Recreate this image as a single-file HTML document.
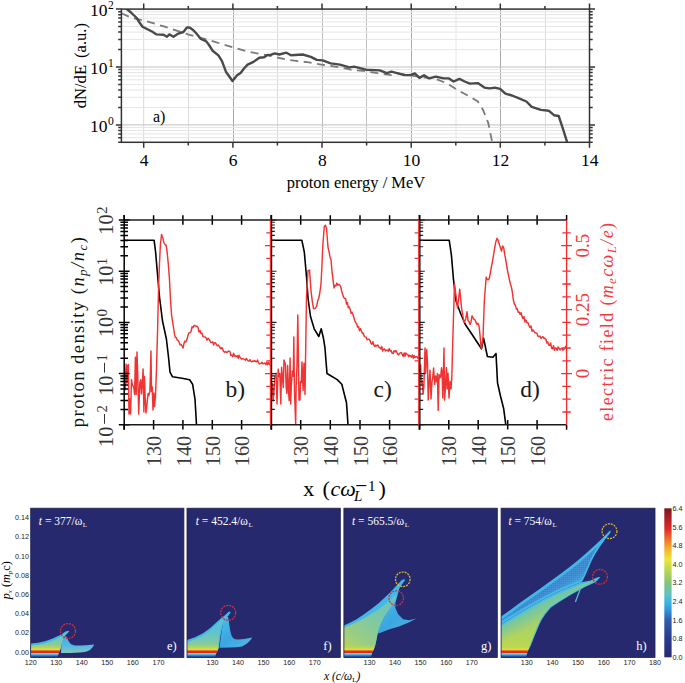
<!DOCTYPE html>
<html><head><meta charset="utf-8"><style>
html,body{margin:0;padding:0;background:#fff;width:685px;height:683px;overflow:hidden}
svg{display:block}
text{font-family:"Liberation Serif",serif}
.s{font-family:"Liberation Sans",sans-serif}
</style></head><body>
<svg width="685" height="683" viewBox="0 0 685 683">
<g id="top">
<line x1="143.7" y1="9.1" x2="143.7" y2="142.3" stroke="#d8d8d8" stroke-width="1"/>
<line x1="188.5" y1="9.1" x2="188.5" y2="142.3" stroke="#dcdcdc" stroke-width="1"/>
<line x1="233.5" y1="9.1" x2="233.5" y2="142.3" stroke="#a9a9a9" stroke-width="1"/>
<line x1="277.5" y1="9.1" x2="277.5" y2="142.3" stroke="#dadada" stroke-width="1"/>
<line x1="322.5" y1="9.1" x2="322.5" y2="142.3" stroke="#bcbcbc" stroke-width="1"/>
<line x1="366.5" y1="9.1" x2="366.5" y2="142.3" stroke="#c2c2c2" stroke-width="1"/>
<line x1="411.5" y1="9.1" x2="411.5" y2="142.3" stroke="#a9a9a9" stroke-width="1"/>
<line x1="456" y1="9.1" x2="456" y2="142.3" stroke="#e6e6e6" stroke-width="1"/>
<line x1="500.5" y1="9.1" x2="500.5" y2="142.3" stroke="#a9a9a9" stroke-width="1"/>
<line x1="545.5" y1="9.1" x2="545.5" y2="142.3" stroke="#dcdcdc" stroke-width="1"/>
<line x1="121.4" y1="142.3" x2="589.5" y2="142.3" stroke="#e6e6e6" stroke-width="1"/>
<line x1="121.4" y1="137.7" x2="589.5" y2="137.7" stroke="#e6e6e6" stroke-width="1"/>
<line x1="121.4" y1="133.9" x2="589.5" y2="133.9" stroke="#e6e6e6" stroke-width="1"/>
<line x1="121.4" y1="130.5" x2="589.5" y2="130.5" stroke="#e6e6e6" stroke-width="1"/>
<line x1="121.4" y1="127.5" x2="589.5" y2="127.5" stroke="#e6e6e6" stroke-width="1"/>
<line x1="121.4" y1="124.9" x2="589.5" y2="124.9" stroke="#c0c0c0" stroke-width="1"/>
<line x1="121.4" y1="107.5" x2="589.5" y2="107.5" stroke="#e6e6e6" stroke-width="1"/>
<line x1="121.4" y1="97.3" x2="589.5" y2="97.3" stroke="#e6e6e6" stroke-width="1"/>
<line x1="121.4" y1="90" x2="589.5" y2="90" stroke="#e6e6e6" stroke-width="1"/>
<line x1="121.4" y1="84.4" x2="589.5" y2="84.4" stroke="#e6e6e6" stroke-width="1"/>
<line x1="121.4" y1="79.8" x2="589.5" y2="79.8" stroke="#e6e6e6" stroke-width="1"/>
<line x1="121.4" y1="76" x2="589.5" y2="76" stroke="#e6e6e6" stroke-width="1"/>
<line x1="121.4" y1="72.6" x2="589.5" y2="72.6" stroke="#e6e6e6" stroke-width="1"/>
<line x1="121.4" y1="69.6" x2="589.5" y2="69.6" stroke="#e6e6e6" stroke-width="1"/>
<line x1="121.4" y1="67" x2="589.5" y2="67" stroke="#c0c0c0" stroke-width="1"/>
<line x1="121.4" y1="49.6" x2="589.5" y2="49.6" stroke="#e6e6e6" stroke-width="1"/>
<line x1="121.4" y1="39.4" x2="589.5" y2="39.4" stroke="#e6e6e6" stroke-width="1"/>
<line x1="121.4" y1="32.1" x2="589.5" y2="32.1" stroke="#e6e6e6" stroke-width="1"/>
<line x1="121.4" y1="26.5" x2="589.5" y2="26.5" stroke="#e6e6e6" stroke-width="1"/>
<line x1="121.4" y1="21.9" x2="589.5" y2="21.9" stroke="#e6e6e6" stroke-width="1"/>
<line x1="121.4" y1="18.1" x2="589.5" y2="18.1" stroke="#e6e6e6" stroke-width="1"/>
<line x1="121.4" y1="14.7" x2="589.5" y2="14.7" stroke="#e6e6e6" stroke-width="1"/>
<line x1="121.4" y1="11.7" x2="589.5" y2="11.7" stroke="#e6e6e6" stroke-width="1"/>
<clipPath id="ctop"><rect x="121.4" y="9.1" width="468.1" height="133.2"/></clipPath>
<g clip-path="url(#ctop)">
<polyline points="121.5,13.3 132,18 143.7,20.4 164.7,26.7 188,34.4 206.8,39.5 232.5,47.2 248.8,51.9 270,55.7 279.3,58 288.7,59.9 307.4,62.2 321.4,64.6 340,67.4 350.6,69.7 363.4,70.9 377.5,73.2 391.5,75.1 397.3,73.2 420,77 435.8,78.9 446.3,83.1 459.4,91 472.5,98.1 477.8,101.5 483.1,109.9 488.3,123.1 491.5,138.8 492.3,142.2" fill="none" stroke="#7a7a7a" stroke-width="1.8" stroke-dasharray="8,5.5"/>
<polyline points="121.4,2 126.2,8.5 131,12.5 136.7,18 139.5,22.5 142.5,26.7 148.4,29.7 152,31.5 156.5,34.4 163.5,34.8 167,36.7 169.4,34.4 173.4,36.7 177.6,33.9 183.4,32 186.9,27.4 190,27.8 192.7,29.7 196,33 200.9,39 206.3,41.4 209,45 212.6,50.7 218.4,55.4 222,61.2 225.9,71.7 232.5,81 237.1,75.2 240.6,72.9 244,68.5 247.6,64.7 253.5,61.9 259.3,57.7 264,57.3 267.5,54.9 270,55.2 274.7,53.4 279.3,54.5 286.4,52.7 291,55.2 302.7,54.5 310.9,56.9 316.7,59.9 322.6,60.4 330.7,63.4 340,64.6 349.4,67.4 354.1,66.7 365.8,69.7 379.8,70.4 386.8,73.2 391.5,71.6 404.3,75.1 410.2,75.1 414.8,73.4 419.5,77.9 424,75.2 429.2,78.4 435.8,76.6 443.6,78.4 448.9,78.4 453.6,81.5 459.4,78.9 464.7,81.5 469.9,83.6 477.8,83.1 484.4,87.6 489.6,88.4 494.9,87.6 500.1,88.9 505.4,93.6 512,95.5 518.5,98.1 526.4,101.5 531.7,106.8 540.9,109.9 548.7,110.7 554,115.2 558.7,116 563.2,129.6 567.1,142.2" fill="none" stroke="#4a4a4a" stroke-width="2.4" stroke-linejoin="round"/>
</g>
<rect x="121.4" y="9.1" width="468.1" height="133.2" fill="none" stroke="#333" stroke-width="1.5"/>
<path d="M143.7 142.3v5.5M143.7 9.1v-5.5M188.3 142.3v3.2M188.3 9.1v-3.2M232.9 142.3v5.5M232.9 9.1v-5.5M277.4 142.3v3.2M277.4 9.1v-3.2M322 142.3v5.5M322 9.1v-5.5M366.6 142.3v3.2M366.6 9.1v-3.2M411.2 142.3v5.5M411.2 9.1v-5.5M455.8 142.3v3.2M455.8 9.1v-3.2M500.3 142.3v5.5M500.3 9.1v-5.5M544.9 142.3v3.2M544.9 9.1v-3.2M589.5 142.3v5.5M589.5 9.1v-5.5M121.4 142.3h-3.2M589.5 142.3h3.2M121.4 137.7h-3.2M589.5 137.7h3.2M121.4 133.9h-3.2M589.5 133.9h3.2M121.4 130.5h-3.2M589.5 130.5h3.2M121.4 127.5h-3.2M589.5 127.5h3.2M121.4 124.9h-5.5M589.5 124.9h5.5M121.4 107.5h-3.2M589.5 107.5h3.2M121.4 97.3h-3.2M589.5 97.3h3.2M121.4 90h-3.2M589.5 90h3.2M121.4 84.4h-3.2M589.5 84.4h3.2M121.4 79.8h-3.2M589.5 79.8h3.2M121.4 76h-3.2M589.5 76h3.2M121.4 72.6h-3.2M589.5 72.6h3.2M121.4 69.6h-3.2M589.5 69.6h3.2M121.4 67h-5.5M589.5 67h5.5M121.4 49.6h-3.2M589.5 49.6h3.2M121.4 39.4h-3.2M589.5 39.4h3.2M121.4 32.1h-3.2M589.5 32.1h3.2M121.4 26.5h-3.2M589.5 26.5h3.2M121.4 21.9h-3.2M589.5 21.9h3.2M121.4 18.1h-3.2M589.5 18.1h3.2M121.4 14.7h-3.2M589.5 14.7h3.2M121.4 11.7h-3.2M589.5 11.7h3.2M121.4 9.1h-5.5M589.5 9.1h5.5" stroke="#333" stroke-width="1.5" fill="none"/>
<text x="144" y="166" font-size="17.5" text-anchor="middle">4</text>
<text x="233.2" y="166" font-size="17.5" text-anchor="middle">6</text>
<text x="322.3" y="166" font-size="17.5" text-anchor="middle">8</text>
<text x="411.5" y="166" font-size="17.5" text-anchor="middle">10</text>
<text x="500.6" y="166" font-size="17.5" text-anchor="middle">12</text>
<text x="589.8" y="166" font-size="17.5" text-anchor="middle">14</text>
<text x="107.6" y="15.8" font-size="17.5" text-anchor="end">10</text>
<text x="107.9" y="8.8" font-size="11.5">2</text>
<text x="107.6" y="73.7" font-size="17.5" text-anchor="end">10</text>
<text x="107.9" y="66.7" font-size="11.5">1</text>
<text x="107.6" y="131.6" font-size="17.5" text-anchor="end">10</text>
<text x="107.9" y="124.6" font-size="11.5">0</text>
<text x="356" y="187.5" font-size="16.5" text-anchor="middle">proton energy / MeV</text>
<text transform="translate(86.2,108.3) rotate(-90)" font-size="16.6"><tspan x="0">dN/dE</tspan><tspan x="50.3">(a.u.)</tspan></text>
<text x="153" y="122" font-size="16">a)</text>
</g>
<g id="mid">
<clipPath id="cmid"><rect x="124.2" y="220.0" width="442.4" height="204.8"/></clipPath>
<g clip-path="url(#cmid)">
<polyline points="124.2,240.2 154.1,240.2 155.6,252 157.4,273 159.5,297 162.5,321 166.4,339 168.5,357 170,372.2 172.4,376.7 182,378.2 189.6,379.7 192.6,384.2 195,399.2 196.5,424.8" fill="none" stroke="#000" stroke-width="1.6" stroke-linejoin="round"/>
<polyline points="271.5,240.2 301.8,240.2 304.3,252 306.5,276.5 308,298 310.5,316.5 314.2,328.8 318.8,336.5 321.2,328.8 323.4,338 324.9,347.3 327,373.5 329.5,375 337.2,379.6 341.8,384.2 346.5,402.7 348,424.8" fill="none" stroke="#000" stroke-width="1.6" stroke-linejoin="round"/>
<polyline points="419.8,240.2 449.2,240.2 451.4,255 453.5,279.6 456,301 460.6,313.5 465.2,324.2 471.4,333.5 477.5,342.7 481.5,348.8 483.5,338 485,345 487.4,356.5 492.9,357.2 496,353.5 497.5,382.7 500.6,396.5 503.7,408.8 505.8,424.8" fill="none" stroke="#000" stroke-width="1.6" stroke-linejoin="round"/>
<polyline points="124.2,365.6 125.3,389.7 126.1,364.1 126.8,383 127.6,365.8 128.3,364.6 129,414 130,398.7 130.6,414 131.5,379.7 132.4,385.4 133.3,386.2 133.9,388.1 134.6,394.4 135.4,357.2 136.2,394.5 137,352 138,384 138.7,414 139.8,383.3 140.7,379.7 141.5,393.9 142.1,385.5 143.1,368.9 143.9,412.1 144.5,376.4 145.2,398.3 146,413 147.1,402.9 148.1,393.4 148.8,395.5 149.9,391 151,351 151.5,391.6 152.2,386.7 153,410 153.9,392.9 154.5,406.7 155.5,395.7 156.5,369.1 157.6,329.3 158.6,286.2 159.5,263.3 160.4,244.5 161.6,234.4 162.8,238.1 164,242.8 165,244.5 166,245 167,250.9 168.2,262.9 169.4,278.1 170.4,298 171.5,314.4 172.5,321.2 173.5,327.4 174.5,334.4 175.4,337.5 176.3,337.4 177.2,340 178.1,340.3 179,341.8 180,344.9 181,344.3 182,345.8 183,348.1 184,343.4 185,341.1 186,341.8 187,339.3 188,335 189,332.8 190,332.9 191,331.7 192,326.8 193,327.7 194,325.5 195,325.7 196,326.2 197,326.3 198,327.3 199,332.1 200,330.6 201,333.6 202,333.1 203,336.5 204,336.9 205,337 206,337.8 207,340.2 208,338.2 209,339.2 210,340.8 210.9,342.6 211.8,342.4 212.7,341.8 213.6,344.9 214.5,342.8 215.5,342.8 216.4,344.4 217.3,345.8 218.2,345 219.1,346.1 220,347.5 220.9,348.8 221.8,347.6 222.7,349 223.6,351.5 224.5,352.3 225.4,351.6 226.3,352.2 227.3,352.3 228.2,351.1 229.1,351.2 230,351.6 230.9,355.5 231.8,355.2 232.7,356.7 233.6,353.3 234.5,356 235.4,355.6 236.3,356.8 237.3,355.6 238.2,358.4 239.1,355.2 240,357.2 240.9,358.2 241.8,359.1 242.7,358.8 243.6,358.9 244.5,359.5 245.4,360.2 246.4,358.4 247.3,359.9 248.2,361 249.1,361.1 250,359.7 250.9,361.3 251.9,361.8 252.8,360.9 253.7,361.3 254.7,360.6 255.6,361.5 256.5,361.8 257.5,360 258.4,362.4 259.3,363.9 260.2,363.7 261.2,363.3 262.1,362.2 263,363.8 264,363.4 264.9,363 265.8,364.8 266.8,362.1 267.7,364.8 268.6,362.3 269.6,364.7 270.5,364.5" fill="none" stroke="#f03434" stroke-width="1.45" stroke-linejoin="round"/>
<polyline points="271.5,390.1 272.3,383.5 273.2,401 274.1,389.8 274.7,376.2 275.5,377.2 276.1,373.1 277,404 278.2,369.1 279,376.6 279.8,373.5 280.8,404 281.6,367.3 282.5,378.1 283.3,387.4 284,360 285.4,364.3 286.2,387.9 286.9,393.4 287.6,365.4 288.5,390.4 289.2,400.6 290.1,358 290.7,404 291.3,386.2 292.3,370.9 293.3,376.2 293.8,337 294.5,391.8 295.7,424 296.1,388.1 297,363.7 297.8,315 299,400.1 300,400 300.5,381.8 301.3,382.7 302,362 303.1,390.4 304,363.2 305,394.5 306.5,296.3 308,270.7 309.5,270.1 311,290.8 312.2,300.6 313.5,308.7 314.6,308.6 315.7,307.9 316.7,306.1 317.8,300.5 318.8,298.3 319.9,292.1 321,284.1 321.9,266.3 322.8,245.6 324.3,226.5 325.4,225.2 326.5,228.3 328,247.3 329,251.5 330,256.9 331,259.7 332,271.1 333,279.7 334,288 335,285.4 335.9,285.9 336.9,283.1 337.8,285.2 338.8,284.3 339.8,285.1 340.8,287 341.8,291.7 342.7,294.4 343.7,297.5 344.6,298.4 345.6,298.4 346.5,304.1 347.4,302.6 348.3,307.8 349.2,306.8 350.2,309.5 351.1,313.4 352,312.3 352.9,314.2 353.9,317.7 354.8,320.5 355.8,322.9 356.7,324 357.6,327 358.6,326.8 359.5,330.7 360.5,328.6 361.4,331 362.4,333.4 363.3,333.3 364.3,336.3 365.2,336.8 366.2,337.2 367.1,339.7 368.1,339.3 369,339.2 370,340.5 371,343.3 371.9,344.2 372.9,341.7 373.9,345.3 374.9,346.5 375.8,345.1 376.8,346 377.8,345 378.8,347.2 379.7,347.7 380.7,348.9 381.7,346.5 382.6,351 383.6,349.2 384.5,348.9 385.5,351 386.4,350.1 387.4,350 388.3,351.2 389.3,348.6 390.2,351 391.2,350.6 392.1,353.4 393.1,353.5 394,350.7 395,351.9 395.9,350.6 396.8,352.2 397.7,354.3 398.6,354.9 399.5,353.3 400.5,352.8 401.4,352.5 402.3,354.7 403.2,356.4 404.1,353 405,356.3 405.9,353 406.8,354.1 407.8,354.4 408.7,356.8 409.6,355.3 410.5,355.7 411.4,357.2 412.4,355 413.3,358.2 414.2,355.6 415.1,357.6 416,356.7 417,356.6 417.9,358.4 418.8,358.5" fill="none" stroke="#f03434" stroke-width="1.45" stroke-linejoin="round"/>
<polyline points="419.8,372.5 420.6,364.7 421.5,385.2 422.2,380.6 423.1,394 423.9,386.4 425,348 425.7,373.5 426.7,349.5 427.5,362.4 428.2,400 429.3,380.7 430,370.1 431,399 432,381.3 432.8,376.8 433.6,368 434.6,384.3 435.5,376 436.6,381.8 437.4,373.6 438.2,410.4 439.1,374.6 439.7,378 440.6,377.4 441.5,367.8 442.1,371.7 442.8,397.9 444,348 444.6,400 445.4,388.1 446.4,367.7 447.2,388.9 448,373.2 449,398 450,381.4 451,389 451.8,377.8 452.9,336.5 454.5,283.9 456,295.9 457.5,307.9 458.6,299.1 459.7,289.2 460.6,297.8 461.5,307.6 462.6,314.2 463.7,321 464.5,322.3 465.8,318.7 467,311.8 468,320.4 469,321.5 470,324.5 471,322.2 472,315.8 473,317.6 474,319.4 475,319.8 476,322.4 477,324.4 478,323.2 479,326 479.5,329.8 481.2,348.4 482.1,343.5 483,337.9 484.3,301.7 485.2,289.6 486.2,277.1 487.2,279.3 488.3,279.8 489.3,278.5 490.4,272.6 491.4,266.6 492.4,261.9 493.5,255.3 494.5,249 495.8,241.9 497,238.3 498,240 499,243.6 500.2,247 501.5,251 502.6,245.9 503.7,247.8 504.8,255.2 505.8,259.9 507.1,268.3 508.3,274.4 509.3,279.2 510.4,284.1 511.4,287 512.4,292.7 513.5,300.8 514.5,304.2 515.4,305.5 516.4,309.1 517.3,308.8 518.2,312.3 519.2,312.1 520.1,314.4 521.1,312.6 522,316.4 523,318.6 524,316.7 525,322.1 526,319.9 527,322.7 528,322.7 529,325.6 530,327.5 531,326 532,331.2 533,329.9 534,331.4 535,332.8 536,332.8 537,333.5 538,336.3 539,336.6 540,336 541,338.6 542,337.4 543,336.7 544,338.5 545,338.2 546,339.4 546.9,343 547.9,342.1 548.8,345.3 549.7,345.4 550.7,343 551.6,348.2 552.5,348.8 553.5,345.6 554.4,350.3 555.3,348 556.3,348.2 557.2,350.4 558.1,347 559.1,348.2 560,350 560.9,349 561.9,347.9 562.8,350.2 563.8,349.5 564.7,348.5 565.7,346.2 566.6,348" fill="none" stroke="#f03434" stroke-width="1.45" stroke-linejoin="round"/>
</g>
<path d="M153.6 215.2v9.6M153.6 420v9.6M182.9 215.2v9.6M182.9 420v9.6M212.3 215.2v9.6M212.3 420v9.6M241.6 215.2v9.6M241.6 420v9.6M118.8 424.8h10.8M120.4 409.4h7.6M120.4 400.4h7.6M120.4 394h7.6M120.4 389h7.6M120.4 385h7.6M120.4 381.5h7.6M120.4 378.6h7.6M120.4 375.9h7.6M118.8 373.6h10.8M120.4 358.2h7.6M120.4 349.2h7.6M120.4 342.8h7.6M120.4 337.8h7.6M120.4 333.8h7.6M120.4 330.3h7.6M120.4 327.4h7.6M120.4 324.7h7.6M118.8 322.4h10.8M120.4 307h7.6M120.4 298h7.6M120.4 291.6h7.6M120.4 286.6h7.6M120.4 282.6h7.6M120.4 279.1h7.6M120.4 276.2h7.6M120.4 273.5h7.6M118.8 271.2h10.8M120.4 255.8h7.6M120.4 246.8h7.6M120.4 240.4h7.6M120.4 235.4h7.6M120.4 231.4h7.6M120.4 227.9h7.6M120.4 225h7.6M120.4 222.3h7.6M118.8 220h10.8M300.7 215.2v9.6M300.7 420v9.6M330.3 215.2v9.6M330.3 420v9.6M360 215.2v9.6M360 420v9.6M389.6 215.2v9.6M389.6 420v9.6M448.8 215.2v9.6M448.8 420v9.6M478.2 215.2v9.6M478.2 420v9.6M507.7 215.2v9.6M507.7 420v9.6M537.1 215.2v9.6M537.1 420v9.6M124.2 215v5M124.2 424.8v5M271 215v5M271 424.8v5M419.3 215v5M419.3 424.8v5M566.6 215v5M566.6 424.8v5" stroke="#000" stroke-width="1.5" fill="none"/>
<path d="M270.5 412h-4.2M270.5 399.2h-4.2M270.5 386.4h-4.2M270.5 373.6h-5.4M270.5 360.8h-4.2M270.5 348h-4.2M270.5 335.2h-4.2M270.5 322.4h-4.2M270.5 309.6h-5.4M270.5 296.8h-4.2M270.5 284h-4.2M270.5 271.2h-4.2M270.5 258.4h-4.2M270.5 245.6h-5.4M270.5 232.8h-4.2M418.8 412h-4.2M418.8 399.2h-4.2M418.8 386.4h-4.2M418.8 373.6h-5.4M418.8 360.8h-4.2M418.8 348h-4.2M418.8 335.2h-4.2M418.8 322.4h-4.2M418.8 309.6h-5.4M418.8 296.8h-4.2M418.8 284h-4.2M418.8 271.2h-4.2M418.8 258.4h-4.2M418.8 245.6h-5.4M418.8 232.8h-4.2M562.4 412h8.4M562.4 399.2h8.4M562.4 386.4h8.4M561.2 373.6h10.8M562.4 360.8h8.4M562.4 348h8.4M562.4 335.2h8.4M562.4 322.4h8.4M561.2 309.6h10.8M562.4 296.8h8.4M562.4 284h8.4M562.4 271.2h8.4M562.4 258.4h8.4M561.2 245.6h10.8M562.4 232.8h8.4" stroke="#f03030" stroke-width="1.3" fill="none"/>
<path d="M271.5 424.8h5M271.5 409.4h3.4M271.5 400.4h3.4M271.5 394h3.4M271.5 389h3.4M271.5 385h3.4M271.5 381.5h3.4M271.5 378.6h3.4M271.5 375.9h3.4M271.5 373.6h5M271.5 358.2h3.4M271.5 349.2h3.4M271.5 342.8h3.4M271.5 337.8h3.4M271.5 333.8h3.4M271.5 330.3h3.4M271.5 327.4h3.4M271.5 324.7h3.4M271.5 322.4h5M271.5 307h3.4M271.5 298h3.4M271.5 291.6h3.4M271.5 286.6h3.4M271.5 282.6h3.4M271.5 279.1h3.4M271.5 276.2h3.4M271.5 273.5h3.4M271.5 271.2h5M271.5 255.8h3.4M271.5 246.8h3.4M271.5 240.4h3.4M271.5 235.4h3.4M271.5 231.4h3.4M271.5 227.9h3.4M271.5 225h3.4M271.5 222.3h3.4M271.5 220h5M419.8 424.8h5M419.8 409.4h3.4M419.8 400.4h3.4M419.8 394h3.4M419.8 389h3.4M419.8 385h3.4M419.8 381.5h3.4M419.8 378.6h3.4M419.8 375.9h3.4M419.8 373.6h5M419.8 358.2h3.4M419.8 349.2h3.4M419.8 342.8h3.4M419.8 337.8h3.4M419.8 333.8h3.4M419.8 330.3h3.4M419.8 327.4h3.4M419.8 324.7h3.4M419.8 322.4h5M419.8 307h3.4M419.8 298h3.4M419.8 291.6h3.4M419.8 286.6h3.4M419.8 282.6h3.4M419.8 279.1h3.4M419.8 276.2h3.4M419.8 273.5h3.4M419.8 271.2h5M419.8 255.8h3.4M419.8 246.8h3.4M419.8 240.4h3.4M419.8 235.4h3.4M419.8 231.4h3.4M419.8 227.9h3.4M419.8 225h3.4M419.8 222.3h3.4M419.8 220h5" stroke="#222" stroke-width="1.1" fill="none"/>
<line x1="123.7" y1="220.0" x2="566.6" y2="220.0" stroke="#1e1e1e" stroke-width="1.4"/>
<line x1="123.7" y1="424.8" x2="566.6" y2="424.8" stroke="#1a1a1a" stroke-width="1.4"/>
<line x1="124.2" y1="215.0" x2="124.2" y2="429.8" stroke="#000" stroke-width="1.5"/>
<line x1="270.4" y1="220.0" x2="270.4" y2="424.8" stroke="#f03030" stroke-width="1.2"/>
<line x1="271.6" y1="215.0" x2="271.6" y2="429.8" stroke="#000" stroke-width="1.2"/>
<line x1="418.7" y1="220.0" x2="418.7" y2="424.8" stroke="#f03030" stroke-width="1.2"/>
<line x1="419.90000000000003" y1="215.0" x2="419.90000000000003" y2="429.8" stroke="#000" stroke-width="1.2"/>
<line x1="566.6" y1="220.0" x2="566.6" y2="424.8" stroke="#f03030" stroke-width="1.4"/>
<g transform="translate(113.1,220) rotate(-90)" fill="#333"><text x="5.6" font-size="20.3" text-anchor="end">10</text><text x="5.9" y="-6.6" font-size="15">2</text></g>
<g transform="translate(113.1,271.2) rotate(-90)" fill="#333"><text x="5.6" font-size="20.3" text-anchor="end">10</text><text x="5.9" y="-6.6" font-size="15">1</text></g>
<g transform="translate(113.1,322.4) rotate(-90)" fill="#333"><text x="5.6" font-size="20.3" text-anchor="end">10</text><text x="5.9" y="-6.6" font-size="15">0</text></g>
<g transform="translate(113.1,373.6) rotate(-90)" fill="#333"><text x="-1.9" font-size="20.3" text-anchor="end">10</text><path d="M1 -8.6h9.8" stroke="#333" stroke-width="1"/><text x="12.2" y="-6.6" font-size="14.5">1</text></g>
<g transform="translate(113.1,424.8) rotate(-90)" fill="#333"><text x="-1.9" font-size="20.3" text-anchor="end">10</text><path d="M1 -8.6h9.8" stroke="#333" stroke-width="1"/><text x="12.2" y="-6.6" font-size="14.5">2</text></g>
<text transform="translate(161.2,451) rotate(-90)" font-size="20.3" text-anchor="middle" fill="#3a3a3a" >130</text>
<text transform="translate(190.5,451) rotate(-90)" font-size="20.3" text-anchor="middle" fill="#3a3a3a" >140</text>
<text transform="translate(219.9,451) rotate(-90)" font-size="20.3" text-anchor="middle" fill="#3a3a3a" >150</text>
<text transform="translate(249.2,451) rotate(-90)" font-size="20.3" text-anchor="middle" fill="#3a3a3a" >160</text>
<text transform="translate(308.3,451) rotate(-90)" font-size="20.3" text-anchor="middle" fill="#3a3a3a" >130</text>
<text transform="translate(337.9,451) rotate(-90)" font-size="20.3" text-anchor="middle" fill="#3a3a3a" >140</text>
<text transform="translate(367.6,451) rotate(-90)" font-size="20.3" text-anchor="middle" fill="#3a3a3a" >150</text>
<text transform="translate(397.2,451) rotate(-90)" font-size="20.3" text-anchor="middle" fill="#3a3a3a" >160</text>
<text transform="translate(456.4,451) rotate(-90)" font-size="20.3" text-anchor="middle" fill="#3a3a3a" >130</text>
<text transform="translate(485.8,451) rotate(-90)" font-size="20.3" text-anchor="middle" fill="#3a3a3a" >140</text>
<text transform="translate(515.3,451) rotate(-90)" font-size="20.3" text-anchor="middle" fill="#3a3a3a" >150</text>
<text transform="translate(544.7,451) rotate(-90)" font-size="20.3" text-anchor="middle" fill="#3a3a3a" >160</text>
<text transform="translate(589.1,245.6) rotate(-90)" font-size="19" text-anchor="middle" fill="#f03c3c" >0.5</text>
<text transform="translate(589.1,309.6) rotate(-90)" font-size="19" text-anchor="middle" fill="#f03c3c" >0.25</text>
<text transform="translate(589.1,373.6) rotate(-90)" font-size="19" text-anchor="middle" fill="#f03c3c" >0</text>
<text transform="translate(83.8,332.2) rotate(-90)" font-size="18.5" text-anchor="middle" fill="#111" textLength="190">proton density (<tspan font-style="italic">n<tspan font-size="13" dy="3.5">p</tspan><tspan dy="-3.5">/n</tspan><tspan font-size="13" dy="3.5">c</tspan></tspan><tspan dy="-3.5">)</tspan></text>
<text transform="translate(612.5,322) rotate(-90)" font-size="18" text-anchor="middle" fill="#f03c3c" textLength="198">electric field (<tspan font-style="italic">m<tspan font-size="13" dy="3.5">e</tspan><tspan dy="-3.5">cω</tspan><tspan font-size="13" dy="3.5">L</tspan><tspan dy="-3.5">/e</tspan></tspan>)</text>
<text x="225.6" y="396.9" font-size="23.5" fill="#1a1a1a">b)</text>
<text x="373.6" y="396.9" font-size="23.5" fill="#1a1a1a">c)</text>
<text x="520.3" y="396.9" font-size="23.5" fill="#1a1a1a">d)</text>
<text x="303.2" y="495.5" font-size="22">x</text>
<text x="322.5" y="495.5" font-size="22">(</text>
<text x="330.5" y="495.5" font-size="22" font-style="italic">cω</text>
<text x="354" y="501.4" font-size="15" font-style="italic">L</text>
<path d="M356.3 485.6h10" stroke="#000" stroke-width="1.1"/>
<text x="368" y="491" font-size="15">1</text>
<text x="378.5" y="495.5" font-size="22">)</text>
</g>
<g id="bot">
<defs>
<linearGradient id="cbar" x1="0" y1="1" x2="0" y2="0">
<stop offset="0" stop-color="#262a6e"/>
<stop offset="0.125" stop-color="#2a3a8e"/>
<stop offset="0.25" stop-color="#305cae"/>
<stop offset="0.31" stop-color="#3090d8"/>
<stop offset="0.36" stop-color="#38b4e6"/>
<stop offset="0.42" stop-color="#5cc2c4"/>
<stop offset="0.5" stop-color="#84c478"/>
<stop offset="0.6" stop-color="#c6da48"/>
<stop offset="0.66" stop-color="#eee63a"/>
<stop offset="0.73" stop-color="#f4b02c"/>
<stop offset="0.8" stop-color="#ec6a2c"/>
<stop offset="0.86" stop-color="#e02a2a"/>
<stop offset="0.93" stop-color="#b01e26"/>
<stop offset="1" stop-color="#76181c"/>
</linearGradient>
<linearGradient id="band" gradientUnits="userSpaceOnUse" x1="0" y1="644" x2="0" y2="657.5">
<stop offset="0" stop-color="#b0d460" stop-opacity="0"/>
<stop offset="0.259" stop-color="#c0d850" stop-opacity="0.7"/>
<stop offset="0.39" stop-color="#e6e236"/>
<stop offset="0.46" stop-color="#f0a82c"/>
<stop offset="0.515" stop-color="#e2301f"/>
<stop offset="0.652" stop-color="#e0281e"/>
<stop offset="0.689" stop-color="#e8b034"/>
<stop offset="0.726" stop-color="#98d078"/>
<stop offset="0.778" stop-color="#48bce4"/>
<stop offset="0.83" stop-color="#3a94da"/>
<stop offset="0.9" stop-color="#2e54aa"/>
<stop offset="1" stop-color="#28307a"/>
</linearGradient>
<linearGradient id="fan" x1="0" y1="0" x2="1" y2="1">
<stop offset="0" stop-color="#4cbfe8"/>
<stop offset="0.5" stop-color="#3aa6e2"/>
<stop offset="1" stop-color="#58b8e2"/>
</linearGradient>
<linearGradient id="fanE" x1="0" y1="0" x2="0" y2="1">
<stop offset="0" stop-color="#3cb0e6"/>
<stop offset="0.6" stop-color="#5ab8e4"/>
<stop offset="1" stop-color="#84c8b8"/>
</linearGradient>
<linearGradient id="grn" x1="0" y1="1" x2="1" y2="0">
<stop offset="0" stop-color="#bcd658"/>
<stop offset="0.55" stop-color="#94cc88"/>
<stop offset="1" stop-color="#6cc4bc"/>
</linearGradient>
<linearGradient id="grnH" x1="0" y1="0" x2="1" y2="1">
<stop offset="0" stop-color="#78c6a8"/>
<stop offset="0.5" stop-color="#a6d26c"/>
<stop offset="1" stop-color="#c6da48"/>
</linearGradient>
<linearGradient id="gE" gradientUnits="userSpaceOnUse" x1="0" y1="630" x2="0" y2="650">
<stop offset="0" stop-color="#5cc2d2"/>
<stop offset="0.45" stop-color="#74c8b4"/>
<stop offset="1" stop-color="#9ccd80"/>
</linearGradient>
<linearGradient id="gG" gradientUnits="userSpaceOnUse" x1="400" y1="585" x2="350" y2="650">
<stop offset="0" stop-color="#5cc2d0"/>
<stop offset="0.5" stop-color="#7cc8a8"/>
<stop offset="0.8" stop-color="#98cc84"/>
<stop offset="1" stop-color="#b4d462"/>
</linearGradient>
<linearGradient id="gH" gradientUnits="userSpaceOnUse" x1="0" y1="590" x2="0" y2="652">
<stop offset="0" stop-color="#9acf7a"/>
<stop offset="0.6" stop-color="#aad266"/>
<stop offset="1" stop-color="#c0d84a"/>
</linearGradient>
<linearGradient id="tealH" gradientUnits="userSpaceOnUse" x1="540" y1="603.5" x2="548" y2="618.5">
<stop offset="0" stop-color="#68c4b4"/>
<stop offset="0.5" stop-color="#78c6a0" stop-opacity="0.6"/>
<stop offset="1" stop-color="#8ac890" stop-opacity="0"/>
</linearGradient>
<pattern id="speck" width="2" height="2" patternUnits="userSpaceOnUse">
<rect width="2" height="2" fill="#3f8ad2"/>
<rect x="0" y="0" width="1" height="1" fill="#4896da"/>
<rect x="1" y="1" width="1" height="1" fill="#3a80cc"/>
</pattern>
<linearGradient id="bandH" gradientUnits="userSpaceOnUse" x1="545" y1="578" x2="556" y2="596">
<stop offset="0" stop-color="#3a9ad8" stop-opacity="0"/>
<stop offset="0.4" stop-color="#3a80cc" stop-opacity="0"/>
<stop offset="1" stop-color="#48aee0" stop-opacity="0.9"/>
</linearGradient>
</defs>
<rect x="30.7" y="508.2" width="153.2" height="149.3" fill="#27296e"/>
<rect x="187" y="508.2" width="153.3" height="149.3" fill="#27296e"/>
<rect x="343.9" y="508.2" width="153.4" height="149.3" fill="#27296e"/>
<rect x="501.1" y="508.2" width="153.9" height="149.3" fill="#27296e"/>
<polygon points="61.5,641 63.8,637.5 66,636.3 67,637.5 68,640 69.5,642.5 71.5,644.4 75,645.5 80,645.6 86,645.3 94.2,644.6 92.8,647 90,650 86,651.8 80,652.6 70,652.9 61,653" fill="url(#fanE)" />
<polygon points="30.7,643.6 38,642.7 45,641.2 52,638.7 58,635.9 61.5,634.4 63,633.3 65.5,631.6 68,630.8 69.4,631.5 67.5,633.3 65,635.5 63.5,638 62.3,642 61,647 59.8,651 58.6,653.4 57.5,655.2 30.7,655.2" fill="#42b8e8" />
<polygon points="30.7,645.6 38,644.9 45,643.4 52,640.9 58,638 61.2,636.5 63,634.8 65.5,632.8 67.5,632.2 66,634.5 63.5,637.5 62,641.5 60.5,647 59.2,651 58,653.4 57,655 30.7,655" fill="url(#gE)" />
<clipPath id="bc1"><polygon points="30.7,643.6 38,642.7 45,641.2 52,638.7 58,635.9 61.5,634.4 63,633.3 65.5,631.6 68,630.8 69.4,631.5 67.5,633.3 65,635.5 63.5,638 62.3,642 61,647 59.8,651 58.6,653.4 57.5,657.5 30.7,657.5"/></clipPath>
<rect x="30.7" y="644" width="33.3" height="13.5" fill="url(#band)" clip-path="url(#bc1)"/>
<circle cx="68" cy="631" r="7.5" fill="none" stroke="#d0303c" stroke-width="1.25" stroke-dasharray="2,1"/>
<polygon points="223.5,619 226,616.5 228,617 228.8,621 229.5,626 230.3,631 231.3,635 232.8,637.8 235,639.2 238,639.6 244,639 252.3,637.4 250.5,640 247,643.5 242,646.4 236,647.2 230,647.4 219.5,647.8 221,636" fill="url(#fan)" />
<polygon points="187,640.1 195,637.3 203,633.3 210,628.3 216,622.8 221,618.3 223.5,616.6 226,614.2 229,611.5 230.8,612.3 228.5,615.5 225.5,619 222.5,626 220.5,636 219,646.7 217.5,651 216,653.7 215,655.2 187,655.2" fill="#42b8e8" />
<polygon points="187,642.3 195,639.5 203,635.5 210,630.5 216,625 220.5,620.6 223.5,618.3 226,615.8 228.5,613.6 226.5,617 223.8,620.5 221,627 219.3,636 218,646.7 216.7,651 215.3,653.7 214.5,655 187,655" fill="url(#gE)" />
<clipPath id="bc2"><polygon points="187,640.1 195,637.3 203,633.3 210,628.3 216,622.8 221,618.3 223.5,616.6 226,614.2 229,611.5 230.8,612.3 228.5,615.5 225.5,619 222.5,626 220.5,636 219,646.7 217.5,651 216,653.7 215,657.5 187,657.5"/></clipPath>
<rect x="187" y="644" width="35" height="13.5" fill="url(#band)" clip-path="url(#bc2)"/>
<circle cx="228.2" cy="612.8" r="7.5" fill="none" stroke="#d0303c" stroke-width="1.25" stroke-dasharray="2,1"/>
<polygon points="395.5,600 395.4,608 398,614.1 403.1,619.2 409.2,620.3 416.2,618.6 409.2,622.3 399,626.4 388.7,629.5 378.5,633.6 377.5,631.5 380.5,624.4 384.6,616.2 389.7,609" fill="url(#fan)" />
<polygon points="343.9,625.5 349.3,622.9 356.6,619.3 364,614.2 371.3,609 378.6,603.2 385.9,596.6 390.3,592.2 395,587.2 398.5,583.5 401.5,580.3 403.6,579.2 405.3,579.8 401.5,585 399.5,588 398,593.6 396,600.8 390,609 384.6,616.2 380.5,624.4 378,631.5 376.4,640 375.3,645 373.5,650 372,652.6 371,655.2 343.9,655.2" fill="#42b8e8" />
<polygon points="343.9,627.8 349.3,625.6 356.6,622.3 364,618.2 371.3,614 378.6,609.2 385.9,603.6 390,600 393.5,596.5 396.5,594 395.5,600.8 389.7,609 384.6,616.2 380.5,624.4 378,631.5 376.4,640 375.3,645 373.5,650 372,652.6 371,655 343.9,655" fill="url(#gG)" />
<clipPath id="bc3"><polygon points="343.9,625.5 349.3,622.9 356.6,619.3 364,614.2 371.3,609 378.6,603.2 385.9,596.6 390.3,592.2 395,587.2 398.5,583.5 401.5,580.3 403.6,579.2 405.3,579.8 401.5,585 399.5,588 398,593.6 396,600.8 390,609 384.6,616.2 380.5,624.4 378,631.5 376.4,640 375.3,645 373.5,650 372,652.6 371,657.5 343.9,657.5"/></clipPath>
<rect x="343.9" y="644" width="36.1" height="13.5" fill="url(#band)" clip-path="url(#bc3)"/>
<circle cx="402.8" cy="579.3" r="7.3" fill="none" stroke="#d8b830" stroke-width="1.25" stroke-dasharray="2,1"/>
<circle cx="396.2" cy="598.1" r="7.3" fill="none" stroke="#d0303c" stroke-width="1.25" stroke-dasharray="2,1"/>
<polygon points="501.1,616.5 510,610.2 520,602.8 530,595.8 540,588.7 550,581.5 560,574.2 568,568.2 575,562.8 581,557.8 587,552.6 593.6,546.6 599,541.6 603.5,537.2 607,533.4 609.3,531.2 611,530.6 610,533.2 605,539.5 600,546.5 595.5,553.5 591.5,561 588.3,568.5 585.5,575 582.8,580.6 581.4,582.2 574.4,585.1 559.2,591.5 544,599.1 530,606.7 516,615 501.1,624.2" fill="#42b8e8" />
<polygon points="501.6,619.4 510.6,613.2 520.6,605.8 530.6,598.8 540.6,591.7 550.6,584.5 560.6,577.2 568.6,571.2 575.6,565.8 581.6,560.8 587.6,555.6 594.2,549.6 599.6,544.6 596.5,548.5 592.5,555.5 588.8,563 585.8,570 583.2,576 580.6,579.7 573.8,582.5 559,588.8 544,596.4 530,604 516,612.2 501.6,621" fill="url(#speck)" />
<polygon points="501.6,619.4 510.6,613.2 520.6,605.8 530.6,598.8 540.6,591.7 550.6,584.5 560.6,577.2 568.6,571.2 575.6,565.8 581.6,560.8 587.6,555.6 594.2,549.6 599.6,544.6 596.5,548.5 592.5,555.5 588.8,563 585.8,570 583.2,576 580.6,579.7 573.8,582.5 559,588.8 544,596.4 530,604 516,612.2 501.6,621" fill="url(#bandH)" />
<polygon points="501.1,624.2 516,615 530,606.7 544,599.1 559.2,591.5 574.4,585.1 581.4,582.2 590.7,580.4 597,577.5 600.3,576.7 599,578.8 595.4,582.3 585,587 571,594.8 560,601.5 551,607.5 545.5,614 541.5,620 538.5,626.5 535,635 531,645 528,650.5 526,655.2 501.1,655.2" fill="#4cbce0" />
<polygon points="501.1,626.6 516,617.6 530,609.3 544,601.6 559.2,594 574.4,587.4 581.4,584.6 590.7,581.8 596.5,579 585,585.8 571,593.4 560,600 550.2,606.2 544.4,613.4 540.4,619.6 537.5,626 534,634.6 530.1,644.8 527.1,650.3 525.2,655 501.1,655" fill="url(#gH)" />
<polygon points="501.1,626.6 516,617.6 530,609.3 544,601.6 559.2,594 574.4,587.4 581.4,584.6 590.7,581.8 596.5,579 585,585.8 571,593.4 560,600 550.2,606.2 544.4,613.4 540.4,619.6 537.5,626 534,634.6 530.1,644.8 527.1,650.3 525.2,655 501.1,655" fill="url(#tealH)" />
<clipPath id="bc4"><polygon points="501.1,624.2 516,615 530,606.7 544,599.1 559.2,591.5 574.4,585.1 581.4,582.2 590.7,580.4 597,577.5 600.3,576.7 599,578.8 595.4,582.3 585,587 571,594.8 560,601.5 551,607.5 545.5,614 541.5,620 538.5,626.5 535,635 531,645 528,650.5 526,657.5 501.1,657.5"/></clipPath>
<rect x="501.1" y="644" width="29.9" height="13.5" fill="url(#band)" clip-path="url(#bc4)"/>
<path d="M580.6,588 L575.6,601.5" stroke="#56b8e0" stroke-width="1.3" stroke-linecap="round"/>
<circle cx="609.5" cy="531.2" r="7.4" fill="none" stroke="#d8b830" stroke-width="1.25" stroke-dasharray="2,1"/>
<circle cx="600" cy="576.8" r="7.4" fill="none" stroke="#d0303c" stroke-width="1.25" stroke-dasharray="2,1"/>
<rect x="30.7" y="508.2" width="153.2" height="149.3" fill="none" stroke="#1e1f4a" stroke-width="0.8"/>
<rect x="187" y="508.2" width="153.3" height="149.3" fill="none" stroke="#1e1f4a" stroke-width="0.8"/>
<rect x="343.9" y="508.2" width="153.4" height="149.3" fill="none" stroke="#1e1f4a" stroke-width="0.8"/>
<rect x="501.1" y="508.2" width="153.9" height="149.3" fill="none" stroke="#1e1f4a" stroke-width="0.8"/>
<rect x="664.3" y="508.3" width="7.3" height="149" fill="url(#cbar)"/>
<text x="672.6" y="659.9" class="s" font-size="7.2" fill="#222">0.0</text>
<text x="672.6" y="641.3" class="s" font-size="7.2" fill="#222">0.8</text>
<text x="672.6" y="622.7" class="s" font-size="7.2" fill="#222">1.6</text>
<text x="672.6" y="604" class="s" font-size="7.2" fill="#222">2.4</text>
<text x="672.6" y="585.4" class="s" font-size="7.2" fill="#222">3.2</text>
<text x="672.6" y="566.8" class="s" font-size="7.2" fill="#222">4.0</text>
<text x="672.6" y="548.2" class="s" font-size="7.2" fill="#222">4.8</text>
<text x="672.6" y="529.6" class="s" font-size="7.2" fill="#222">5.6</text>
<text x="672.6" y="510.9" class="s" font-size="7.2" fill="#222">6.4</text>
<text x="30.7" y="665.2" class="s" font-size="7.2" text-anchor="middle" fill="#222">120</text>
<text x="56.2" y="665.2" class="s" font-size="7.2" text-anchor="middle" fill="#222">130</text>
<text x="81.8" y="665.2" class="s" font-size="7.2" text-anchor="middle" fill="#222">140</text>
<text x="107.3" y="665.2" class="s" font-size="7.2" text-anchor="middle" fill="#222">150</text>
<text x="132.8" y="665.2" class="s" font-size="7.2" text-anchor="middle" fill="#222">160</text>
<text x="158.4" y="665.2" class="s" font-size="7.2" text-anchor="middle" fill="#222">170</text>
<text x="212.6" y="665.2" class="s" font-size="7.2" text-anchor="middle" fill="#222">130</text>
<text x="238.1" y="665.2" class="s" font-size="7.2" text-anchor="middle" fill="#222">140</text>
<text x="263.6" y="665.2" class="s" font-size="7.2" text-anchor="middle" fill="#222">150</text>
<text x="289.2" y="665.2" class="s" font-size="7.2" text-anchor="middle" fill="#222">160</text>
<text x="314.8" y="665.2" class="s" font-size="7.2" text-anchor="middle" fill="#222">170</text>
<text x="369.5" y="665.2" class="s" font-size="7.2" text-anchor="middle" fill="#222">130</text>
<text x="395" y="665.2" class="s" font-size="7.2" text-anchor="middle" fill="#222">140</text>
<text x="420.6" y="665.2" class="s" font-size="7.2" text-anchor="middle" fill="#222">150</text>
<text x="446.2" y="665.2" class="s" font-size="7.2" text-anchor="middle" fill="#222">160</text>
<text x="471.7" y="665.2" class="s" font-size="7.2" text-anchor="middle" fill="#222">170</text>
<text x="526.8" y="665.2" class="s" font-size="7.2" text-anchor="middle" fill="#222">130</text>
<text x="552.4" y="665.2" class="s" font-size="7.2" text-anchor="middle" fill="#222">140</text>
<text x="578" y="665.2" class="s" font-size="7.2" text-anchor="middle" fill="#222">150</text>
<text x="603.7" y="665.2" class="s" font-size="7.2" text-anchor="middle" fill="#222">160</text>
<text x="629.4" y="665.2" class="s" font-size="7.2" text-anchor="middle" fill="#222">170</text>
<text x="655" y="665.2" class="s" font-size="7.2" text-anchor="middle" fill="#222">180</text>
<text x="28.9" y="654.6" class="s" font-size="7.2" text-anchor="end" fill="#222">0.00</text>
<text x="28.9" y="635.4" class="s" font-size="7.2" text-anchor="end" fill="#222">0.02</text>
<text x="28.9" y="616.2" class="s" font-size="7.2" text-anchor="end" fill="#222">0.04</text>
<text x="28.9" y="597" class="s" font-size="7.2" text-anchor="end" fill="#222">0.06</text>
<text x="28.9" y="577.7" class="s" font-size="7.2" text-anchor="end" fill="#222">0.08</text>
<text x="28.9" y="558.5" class="s" font-size="7.2" text-anchor="end" fill="#222">0.10</text>
<text x="28.9" y="539.3" class="s" font-size="7.2" text-anchor="end" fill="#222">0.12</text>
<text x="28.9" y="520.1" class="s" font-size="7.2" text-anchor="end" fill="#222">0.14</text>
<text x="38.8" y="524.8" font-size="11.5" fill="#fff"><tspan font-style="italic">t</tspan> = 377/ω<tspan font-size="7" dy="2" dx="0.6">L</tspan></text>
<text x="195.7" y="524.8" font-size="11.5" fill="#fff"><tspan font-style="italic">t</tspan> = 452.4/ω<tspan font-size="7" dy="2" dx="0.6">L</tspan></text>
<text x="352" y="524.8" font-size="11.5" fill="#fff"><tspan font-style="italic">t</tspan> = 565.5/ω<tspan font-size="7" dy="2" dx="0.6">L</tspan></text>
<text x="508.4" y="524.8" font-size="11.5" fill="#fff"><tspan font-style="italic">t</tspan> = 754/ω<tspan font-size="7" dy="2" dx="0.6">L</tspan></text>
<text x="167" y="650.3" font-size="12.5" fill="#fff">e)</text>
<text x="323.3" y="650.3" font-size="12.5" fill="#fff">f)</text>
<text x="481" y="650.3" font-size="12.5" fill="#fff">g)</text>
<text x="636.2" y="650.3" font-size="12.5" fill="#fff">h)</text>
<text x="324" y="680" font-size="11.5" font-style="italic">x (c/ω<tspan font-size="7" dy="2" font-style="normal">L</tspan><tspan dy="-2">)</tspan></text>
<text transform="translate(10.2,580.3) rotate(-90)" font-size="12.2" text-anchor="middle"><tspan font-style="italic">p</tspan><tspan font-style="italic" font-size="7" dy="2">x</tspan><tspan dy="-2"> (</tspan><tspan font-style="italic">m</tspan><tspan font-size="7" dy="2" font-style="italic">p</tspan><tspan dy="-2">c</tspan>)</text>
</g>
</svg></body></html>
